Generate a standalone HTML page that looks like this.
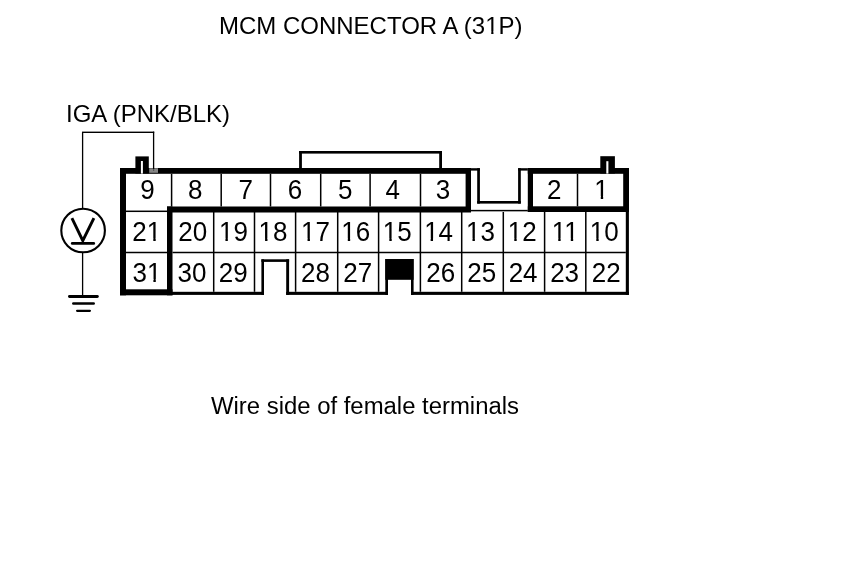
<!DOCTYPE html>
<html><head><meta charset="utf-8"><style>
html,body{margin:0;padding:0;background:#fff;}
svg{display:block;will-change:transform;}
text{font-family:"Liberation Sans", sans-serif;fill:#000;}
</style></head><body>
<svg width="860" height="577" viewBox="0 0 860 577">
<rect x="0" y="0" width="860" height="577" fill="#fff"/>
<rect x="120.00" y="168.00" width="351.00" height="5.80" fill="#000"/>
<rect x="120.00" y="168.00" width="6.00" height="127.30" fill="#000"/>
<rect x="465.60" y="168.00" width="5.40" height="44.00" fill="#000"/>
<rect x="167.00" y="206.50" width="304.00" height="6.00" fill="#000"/>
<rect x="167.00" y="206.50" width="5.50" height="88.80" fill="#000"/>
<rect x="120.00" y="289.30" width="52.50" height="6.00" fill="#000"/>
<rect x="527.80" y="168.00" width="101.20" height="5.80" fill="#000"/>
<rect x="527.80" y="168.00" width="5.20" height="44.00" fill="#000"/>
<rect x="623.20" y="168.00" width="5.80" height="44.00" fill="#000"/>
<rect x="527.80" y="206.30" width="101.20" height="5.70" fill="#000"/>
<rect x="135.40" y="156.40" width="13.40" height="17.10" fill="#000"/>
<rect x="140.90" y="161.00" width="2.00" height="12.60" fill="#fff"/>
<rect x="600.30" y="156.20" width="14.60" height="17.30" fill="#000"/>
<rect x="606.30" y="161.20" width="2.10" height="12.40" fill="#fff"/>
<rect x="149.20" y="168.20" width="8.80" height="4.60" fill="#858585"/>
<rect x="153.00" y="168.00" width="1.20" height="3.00" fill="#555"/>
<rect x="471.00" y="168.20" width="8.90" height="2.40" fill="#000"/>
<rect x="477.20" y="168.20" width="2.70" height="35.40" fill="#000"/>
<rect x="477.20" y="201.00" width="43.60" height="2.60" fill="#000"/>
<rect x="518.10" y="168.20" width="2.70" height="35.40" fill="#000"/>
<rect x="518.10" y="168.20" width="9.70" height="2.40" fill="#000"/>
<rect x="299.10" y="151.00" width="142.90" height="2.60" fill="#000"/>
<rect x="299.10" y="151.00" width="2.80" height="17.50" fill="#000"/>
<rect x="439.20" y="151.00" width="2.80" height="17.50" fill="#000"/>
<rect x="625.80" y="211.00" width="3.10" height="83.90" fill="#000"/>
<rect x="172.00" y="291.80" width="92.00" height="3.10" fill="#000"/>
<rect x="286.20" y="291.80" width="101.70" height="3.10" fill="#000"/>
<rect x="411.00" y="291.80" width="217.90" height="3.10" fill="#000"/>
<rect x="261.40" y="259.30" width="2.60" height="35.60" fill="#000"/>
<rect x="261.40" y="259.30" width="27.70" height="2.60" fill="#000"/>
<rect x="286.20" y="259.30" width="2.90" height="35.60" fill="#000"/>
<rect x="385.30" y="259.00" width="28.30" height="20.80" fill="#000"/>
<rect x="385.30" y="259.00" width="2.70" height="35.90" fill="#000"/>
<rect x="411.00" y="259.00" width="2.60" height="35.90" fill="#000"/>
<rect x="170.85" y="173.80" width="1.50" height="32.70" fill="#000"/>
<rect x="220.45" y="173.80" width="1.50" height="32.70" fill="#000"/>
<rect x="269.75" y="173.80" width="1.50" height="32.70" fill="#000"/>
<rect x="319.95" y="173.80" width="1.50" height="32.70" fill="#000"/>
<rect x="369.35" y="173.80" width="1.50" height="32.70" fill="#000"/>
<rect x="419.75" y="173.80" width="1.50" height="32.70" fill="#000"/>
<rect x="576.75" y="173.80" width="1.50" height="32.50" fill="#000"/>
<rect x="126.00" y="210.55" width="41.00" height="1.50" fill="#000"/>
<rect x="471.00" y="209.85" width="56.80" height="1.50" fill="#000"/>
<rect x="126.00" y="251.75" width="41.00" height="1.50" fill="#000"/>
<rect x="172.50" y="251.75" width="453.30" height="1.50" fill="#000"/>
<rect x="212.95" y="212.00" width="1.50" height="79.80" fill="#000"/>
<rect x="253.75" y="212.00" width="1.50" height="79.80" fill="#000"/>
<rect x="294.85" y="212.00" width="1.50" height="79.80" fill="#000"/>
<rect x="336.95" y="212.00" width="1.50" height="79.80" fill="#000"/>
<rect x="377.85" y="212.00" width="1.50" height="79.80" fill="#000"/>
<rect x="419.65" y="212.00" width="1.50" height="79.80" fill="#000"/>
<rect x="460.95" y="212.00" width="1.50" height="79.80" fill="#000"/>
<rect x="502.55" y="212.00" width="1.50" height="79.80" fill="#000"/>
<rect x="543.85" y="212.00" width="1.50" height="79.80" fill="#000"/>
<rect x="585.05" y="212.00" width="1.50" height="79.80" fill="#000"/>
<rect x="81.95" y="132.30" width="1.30" height="75.70" fill="#000"/>
<rect x="82.00" y="131.60" width="72.20" height="1.40" fill="#000"/>
<rect x="152.95" y="131.60" width="1.30" height="37.40" fill="#000"/>
<rect x="81.95" y="253.00" width="1.30" height="42.50" fill="#000"/>
<circle cx="83.1" cy="230.5" r="21.8" fill="none" stroke="#000" stroke-width="2.1"/>
<path d="M71.9 218.2 L82.8 240.6 L93.9 218.2" fill="none" stroke="#000" stroke-width="2.9" stroke-linecap="butt" stroke-linejoin="miter"/>
<line x1="72.2" y1="243.4" x2="93.8" y2="243.4" stroke="#000" stroke-width="2.6" stroke-linecap="round"/>
<line x1="69.4" y1="296.5" x2="97.4" y2="296.5" stroke="#000" stroke-width="2.8" stroke-linecap="round"/>
<line x1="73.3" y1="303.5" x2="93.7" y2="303.5" stroke="#000" stroke-width="2.5" stroke-linecap="round"/>
<line x1="77.1" y1="310.8" x2="89.9" y2="310.8" stroke="#000" stroke-width="2.2" stroke-linecap="round"/>
<text transform="translate(147.6,198.8) scale(1,1.04)" font-size="26" text-anchor="middle">9</text>
<text transform="translate(195.35,198.8) scale(1,1.04)" font-size="26" text-anchor="middle">8</text>
<text transform="translate(245.85,198.8) scale(1,1.04)" font-size="26" text-anchor="middle">7</text>
<text transform="translate(295.0,198.8) scale(1,1.04)" font-size="26" text-anchor="middle">6</text>
<text transform="translate(345.3,198.8) scale(1,1.04)" font-size="26" text-anchor="middle">5</text>
<text transform="translate(392.75,198.8) scale(1,1.04)" font-size="26" text-anchor="middle">4</text>
<text transform="translate(443.0,198.8) scale(1,1.04)" font-size="26" text-anchor="middle">3</text>
<text transform="translate(554.3,198.8) scale(1,1.04)" font-size="26" text-anchor="middle">2</text>
<text transform="translate(601.5,198.8) scale(1,1.04)" font-size="26" text-anchor="middle">1</text>
<text transform="translate(146.8,241.1) scale(1,1.04)" font-size="26" text-anchor="middle">21</text>
<text transform="translate(192.75,241.1) scale(1,1.04)" font-size="26" text-anchor="middle">20</text>
<text transform="translate(233.4,241.1) scale(1,1.04)" font-size="26" text-anchor="middle">19</text>
<text transform="translate(273.05,241.1) scale(1,1.04)" font-size="26" text-anchor="middle">18</text>
<text transform="translate(315.5,241.1) scale(1,1.04)" font-size="26" text-anchor="middle">17</text>
<text transform="translate(355.75,241.1) scale(1,1.04)" font-size="26" text-anchor="middle">16</text>
<text transform="translate(397.3,241.1) scale(1,1.04)" font-size="26" text-anchor="middle">15</text>
<text transform="translate(438.6,241.1) scale(1,1.04)" font-size="26" text-anchor="middle">14</text>
<text transform="translate(480.45,241.1) scale(1,1.04)" font-size="26" text-anchor="middle">13</text>
<text transform="translate(522.25,241.1) scale(1,1.04)" font-size="26" text-anchor="middle">12</text>
<text transform="translate(565.25,241.1) scale(1,1.04)" font-size="26" text-anchor="middle">11</text>
<text transform="translate(604.25,241.1) scale(1,1.04)" font-size="26" text-anchor="middle">10</text>
<text transform="translate(146.9,281.6) scale(1,1.04)" font-size="26" text-anchor="middle">31</text>
<text transform="translate(192.05,281.6) scale(1,1.04)" font-size="26" text-anchor="middle">30</text>
<text transform="translate(233.25,281.6) scale(1,1.04)" font-size="26" text-anchor="middle">29</text>
<text transform="translate(315.5,281.6) scale(1,1.04)" font-size="26" text-anchor="middle">28</text>
<text transform="translate(357.75,281.6) scale(1,1.04)" font-size="26" text-anchor="middle">27</text>
<text transform="translate(440.7,281.6) scale(1,1.04)" font-size="26" text-anchor="middle">26</text>
<text transform="translate(481.65,281.6) scale(1,1.04)" font-size="26" text-anchor="middle">25</text>
<text transform="translate(523.1,281.6) scale(1,1.04)" font-size="26" text-anchor="middle">24</text>
<text transform="translate(564.6,281.6) scale(1,1.04)" font-size="26" text-anchor="middle">23</text>
<text transform="translate(606.2,281.6) scale(1,1.04)" font-size="26" text-anchor="middle">22</text>
<text transform="translate(219,33.8) scale(1,1.02)" font-size="24" text-anchor="start">MCM CONNECTOR A (31P)</text>
<text transform="translate(66,121.8) scale(1,1.02)" font-size="24" text-anchor="start">IGA (PNK/BLK)</text>
<text transform="translate(211,413.7) scale(1,1.02)" font-size="23.9" text-anchor="start">Wire side of female terminals</text>
<rect x="595.41" y="196.18" width="5.35" height="3.52" fill="#fff"/>
<rect x="603.16" y="196.18" width="5.21" height="3.52" fill="#fff"/>
<rect x="147.94" y="238.48" width="5.35" height="3.52" fill="#fff"/>
<rect x="155.69" y="238.48" width="5.21" height="3.52" fill="#fff"/>
<rect x="220.08" y="238.48" width="5.35" height="3.52" fill="#fff"/>
<rect x="227.83" y="238.48" width="5.21" height="3.52" fill="#fff"/>
<rect x="259.73" y="238.48" width="5.35" height="3.52" fill="#fff"/>
<rect x="267.48" y="238.48" width="5.21" height="3.52" fill="#fff"/>
<rect x="302.18" y="238.48" width="5.35" height="3.52" fill="#fff"/>
<rect x="309.93" y="238.48" width="5.21" height="3.52" fill="#fff"/>
<rect x="342.43" y="238.48" width="5.35" height="3.52" fill="#fff"/>
<rect x="350.18" y="238.48" width="5.21" height="3.52" fill="#fff"/>
<rect x="383.98" y="238.48" width="5.35" height="3.52" fill="#fff"/>
<rect x="391.73" y="238.48" width="5.21" height="3.52" fill="#fff"/>
<rect x="425.28" y="238.48" width="5.35" height="3.52" fill="#fff"/>
<rect x="433.03" y="238.48" width="5.21" height="3.52" fill="#fff"/>
<rect x="467.13" y="238.48" width="5.35" height="3.52" fill="#fff"/>
<rect x="474.88" y="238.48" width="5.21" height="3.52" fill="#fff"/>
<rect x="508.93" y="238.48" width="5.35" height="3.52" fill="#fff"/>
<rect x="516.68" y="238.48" width="5.21" height="3.52" fill="#fff"/>
<rect x="552.90" y="238.48" width="5.35" height="3.52" fill="#fff"/>
<rect x="560.64" y="238.48" width="5.21" height="3.52" fill="#fff"/>
<rect x="565.43" y="238.48" width="5.35" height="3.52" fill="#fff"/>
<rect x="573.17" y="238.48" width="5.21" height="3.52" fill="#fff"/>
<rect x="590.93" y="238.48" width="5.35" height="3.52" fill="#fff"/>
<rect x="598.68" y="238.48" width="5.21" height="3.52" fill="#fff"/>
<rect x="148.04" y="278.98" width="5.35" height="3.52" fill="#fff"/>
<rect x="155.79" y="278.98" width="5.21" height="3.52" fill="#fff"/>
<rect x="486.30" y="31.37" width="4.93" height="3.33" fill="#fff"/>
<rect x="493.46" y="31.37" width="4.80" height="3.33" fill="#fff"/>
</svg>
</body></html>
